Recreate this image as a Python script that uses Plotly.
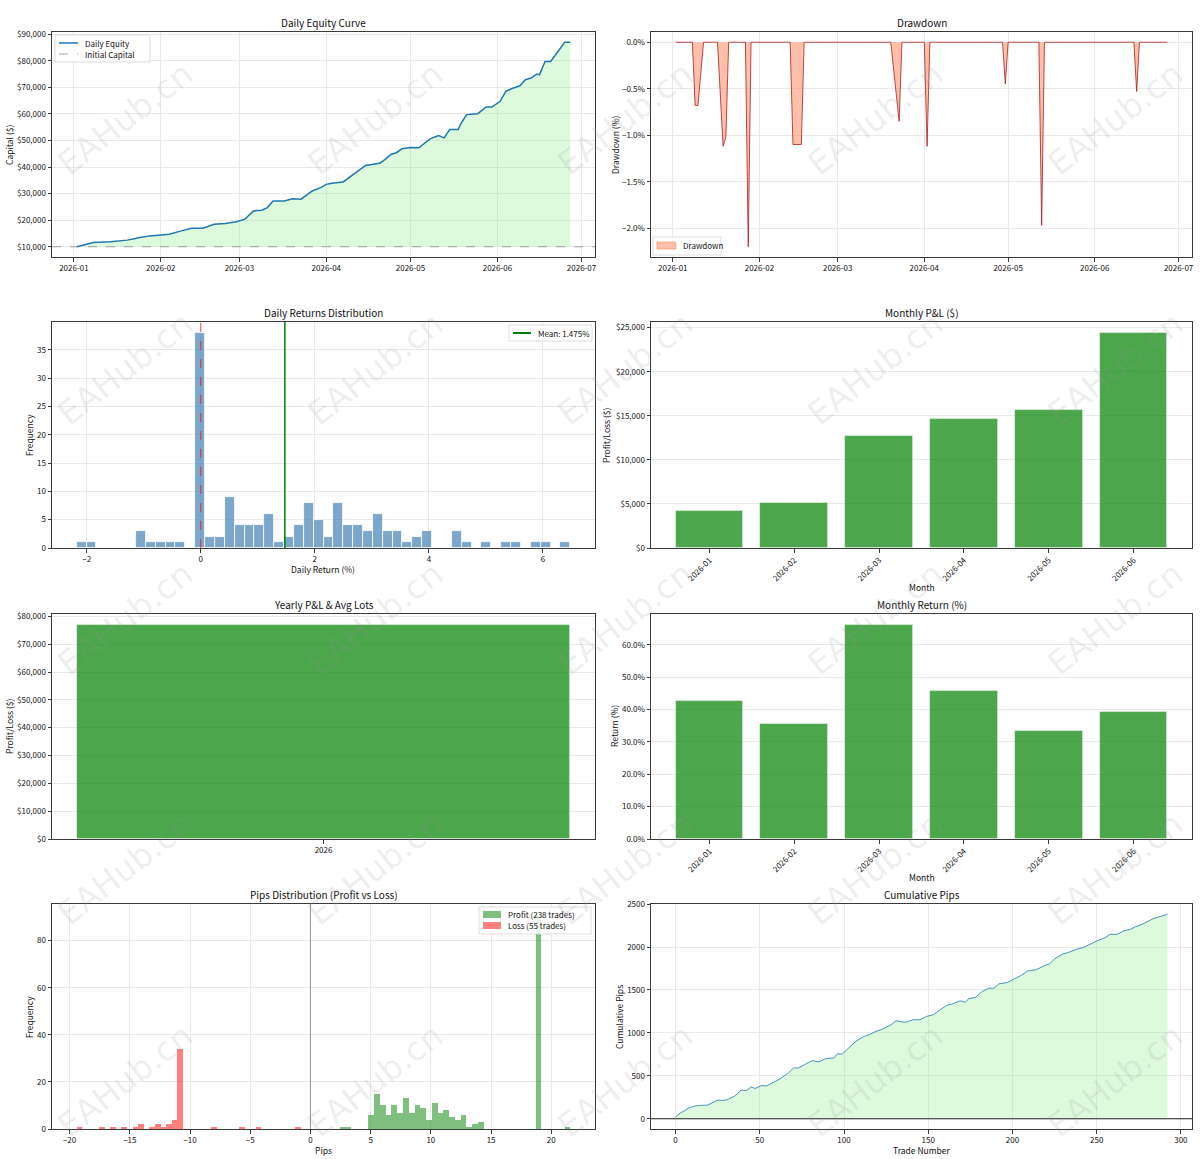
import numpy as np
import pandas as pd
import plotly.graph_objects as go

# ------------------------------------------------------------------ data
equity_dates = ["2026-01-02", "2026-01-06", "2026-01-08", "2026-01-14", "2026-01-20", "2026-01-23",
                "2026-01-24", "2026-01-28", "2026-02-01", "2026-02-04", "2026-02-08", "2026-02-12",
                "2026-02-16", "2026-02-20", "2026-02-24", "2026-02-28", "2026-03-03", "2026-03-06",
                "2026-03-09", "2026-03-11", "2026-03-13", "2026-03-17", "2026-03-20", "2026-03-23",
                "2026-03-27", "2026-03-30", "2026-04-01", "2026-04-03", "2026-04-07", "2026-04-10",
                "2026-04-13", "2026-04-15", "2026-04-20", "2026-04-22", "2026-04-24", "2026-04-26",
                "2026-04-28", "2026-05-01", "2026-05-04", "2026-05-06", "2026-05-08", "2026-05-11",
                "2026-05-13", "2026-05-15", "2026-05-18", "2026-05-19", "2026-05-21", "2026-05-25",
                "2026-05-28", "2026-05-30", "2026-06-02", "2026-06-04", "2026-06-06", "2026-06-09",
                "2026-06-11", "2026-06-13", "2026-06-15", "2026-06-16", "2026-06-18", "2026-06-20",
                "2026-06-23", "2026-06-25", "2026-06-27"]
equity_values = [10000, 11000, 11600, 11900, 12500, 13100, 13400, 14100, 14400, 14750, 15900, 17000,
                 17000, 18500, 18750, 19400, 20400, 23500, 23750, 24750, 27250, 27250, 28100, 27900,
                 31000, 32250, 33500, 33900, 34400, 36600, 39100, 40600, 41400, 42900, 44750, 45400,
                 46900, 47400, 47250, 49100, 50600, 51900, 51000, 54100, 54100, 56400, 59750, 60100,
                 62600, 62600, 64750, 68500, 69500, 70600, 72900, 73500, 75000, 74750, 79750, 79750,
                 84100, 86991, 86991]
initial_capital = 10000

dd_dates = ["2026-01-02", "2026-01-08", "2026-01-09", "2026-01-10", "2026-01-12", "2026-01-17",
            "2026-01-19", "2026-01-20", "2026-01-21", "2026-01-27", "2026-01-28", "2026-01-29",
            "2026-02-12", "2026-02-13", "2026-02-16", "2026-02-17", "2026-03-20", "2026-03-23",
            "2026-03-24", "2026-04-01", "2026-04-02", "2026-04-03", "2026-04-29", "2026-04-30",
            "2026-05-01", "2026-05-12", "2026-05-13", "2026-05-14", "2026-06-15", "2026-06-16",
            "2026-06-17", "2026-06-27"]
dd_values = [0, 0, -0.68, -0.68, 0, 0, -1.12, -1.02, 0, 0, -2.2, 0, 0, -1.10, -1.10, 0, 0, -0.85,
             0, 0, -1.12, 0, 0, -0.45, 0, 0, -1.97, 0, 0, -0.53, 0, 0]

ret_bin_start = -2.175
ret_bin_width = 0.1731
ret_counts = [1, 1, 0, 0, 0, 0, 3, 1, 1, 1,
              1, 0, 38, 2, 2, 9, 4, 4, 4, 6,
              1, 2, 4, 8, 5, 2, 8, 4, 4, 3,
              6, 3, 3, 1, 2, 3, 0, 0, 3, 1,
              0, 1, 0, 1, 1, 0, 1, 1, 0, 1]
ret_mean = 1.475

months = ["2026-01", "2026-02", "2026-03", "2026-04", "2026-05", "2026-06"]
monthly_pnl = [4180, 5050, 12720, 14620, 15690, 24420]
monthly_return = [42.7, 35.5, 66.2, 45.6, 33.4, 39.1]

years = ["2026"]
yearly_pnl = [76991]
yearly_avg_lots = [3.38]

profit_bin_start = 2.42
profit_bin_width = 0.479
profit_counts = [1, 1, 0, 0, 0, 6, 15, 10, 6, 10,
                 7, 13, 7, 10, 9, 4, 11, 7, 8, 5,
                 4, 6, 1, 2, 3, 0, 0, 0, 0, 0,
                 0, 0, 0, 0, 91, 0, 0, 0, 0, 1]
loss_bin_start = -19.41
loss_bin_width = 0.465
loss_counts = [1, 0, 0, 0, 1, 0, 1, 0, 1, 0,
               1, 2, 0, 1, 2, 1, 2, 4, 34, 0,
               0, 0, 0, 0, 1, 0, 0, 0, 0, 1,
               0, 0, 1, 0, 0, 0, 0, 0, 0, 1]
profit_trades = 238
loss_trades = 55

cum_trades = [0, 3, 5, 8, 11, 14, 19, 22, 25, 28, 31, 35, 39, 42, 45, 47, 51, 54, 57, 62,
              67, 70, 73, 77, 81, 85, 89, 94, 96, 99, 103, 107, 112, 115, 119, 123, 128, 131, 135, 137,
              141, 145, 149, 153, 157, 161, 164, 169, 172, 174, 178, 182, 186, 189, 192, 197, 200, 205, 209, 214,
              219, 222, 225, 230, 233, 238, 242, 246, 250, 255, 258, 262, 266, 270, 273, 276, 280, 284, 288, 292]
cum_pips = [23, 70, 89, 128, 147, 155, 159, 186, 217, 213, 224, 263, 333, 329, 372, 352, 387, 383, 410, 464,
            534, 592, 592, 631, 677, 662, 700, 708, 755, 755, 832, 902, 960, 979, 1018, 1045, 1095, 1142, 1126, 1126,
            1153, 1153, 1192, 1211, 1269, 1320, 1335, 1374, 1358, 1397, 1413, 1482, 1521, 1521, 1571, 1587, 1618, 1668, 1722, 1734,
            1784, 1803, 1861, 1920, 1935, 1974, 1993, 2032, 2070, 2109, 2148, 2148, 2187, 2206, 2237, 2256, 2295, 2334, 2356, 2382]

# ------------------------------------------------------------------ layout helpers
W, H = 1200, 1159
FONT = "Noto Sans CJK SC, DejaVu Sans, sans-serif"
cols = [(52, 595), (651, 1192)]
rows = [(32, 257), (322, 548), (614, 839), (904, 1129)]


def cell(k):
    r, c = (k - 1) // 2, (k - 1) % 2
    return rows[r], cols[c]


def pad(lo, hi, f=0.05):
    s = hi - lo
    return [lo - s * f, hi + s * f]


def axname(k):
    return "" if k == 1 else str(k)


def px(x):
    return x / W


def py(y):
    return 1 - y / H


axis_common = dict(showline=True, mirror=True, linecolor="#3a3a3a", linewidth=1,
                   ticks="outside", ticklen=3.5, tickwidth=0.8, tickcolor="#3a3a3a",
                   showgrid=True, gridcolor="#e9e9e9", gridwidth=0.8, zeroline=False,
                   automargin=False,
                   tickfont=dict(size=8, color="#111", family=FONT))

fig = go.Figure()

# ---- 1 Daily Equity Curve
eq_dates = pd.to_datetime(equity_dates)
fig.add_trace(go.Scatter(x=eq_dates, y=[initial_capital] * len(eq_dates), mode="lines",
                         line=dict(width=0), showlegend=False, hoverinfo="skip",
                         xaxis="x", yaxis="y"))
fig.add_trace(go.Scatter(x=eq_dates, y=equity_values, mode="lines", name="Daily Equity",
                         line=dict(color="#1f77b4", width=1.5), fill="tonexty", showlegend=False,
                         fillcolor="rgba(144,238,144,0.3)", xaxis="x", yaxis="y"))
fig.add_shape(type="line", xref="x domain", yref="y", x0=0, x1=1, y0=initial_capital, y1=initial_capital,
              line=dict(color="rgba(128,128,128,0.7)", width=1.2, dash="dash"))

# ---- 2 Drawdown
dd_d = pd.to_datetime(dd_dates)
fig.add_trace(go.Scatter(x=dd_d, y=dd_values, mode="lines", name="Drawdown", fill="tozeroy",
                         fillcolor="rgba(255,150,115,0.6)", line=dict(color="rgba(170,20,20,0.85)", width=0.9),
                         showlegend=False, xaxis="x2", yaxis="y2"))

# ---- 3 Daily returns distribution
ret_edges = ret_bin_start + ret_bin_width * np.arange(len(ret_counts) + 1)
ret_centers = (ret_edges[:-1] + ret_edges[1:]) / 2
fig.add_trace(go.Bar(x=ret_centers, y=ret_counts, width=ret_bin_width, showlegend=False,
                     marker=dict(color="rgba(70,130,180,0.7)", line=dict(color="white", width=0.8)),
                     xaxis="x3", yaxis="y3"))
fig.add_shape(type="line", xref="x3", yref="y3 domain", x0=0, x1=0, y0=0, y1=1,
              line=dict(color="rgba(255,0,0,0.6)", width=1.2, dash="dash"))
fig.add_shape(type="line", xref="x3", yref="y3 domain", x0=ret_mean, x1=ret_mean, y0=0, y1=1,
              line=dict(color="green", width=1.5))

# ---- 4 Monthly P&L
bar_green = "rgba(0,128,0,0.7)"
bar_edge = dict(color="rgba(255,255,255,0.6)", width=0.8)
fig.add_trace(go.Bar(x=months, y=monthly_pnl, width=0.8, showlegend=False,
                     marker=dict(color=bar_green, line=bar_edge), xaxis="x4", yaxis="y4"))

# ---- 5 Yearly P&L
fig.add_trace(go.Bar(x=years, y=yearly_pnl, width=0.8, showlegend=False,
                     marker=dict(color=bar_green, line=bar_edge), xaxis="x5", yaxis="y5"))

# ---- 6 Monthly return
fig.add_trace(go.Bar(x=months, y=monthly_return, width=0.8, showlegend=False,
                     marker=dict(color=bar_green, line=bar_edge), xaxis="x6", yaxis="y6"))

# ---- 7 Pips distribution
p_edges = profit_bin_start + profit_bin_width * np.arange(len(profit_counts) + 1)
l_edges = loss_bin_start + loss_bin_width * np.arange(len(loss_counts) + 1)
profit_color = "rgba(0,128,0,0.5)"
loss_color = "rgba(255,0,0,0.5)"
fig.add_trace(go.Bar(x=(p_edges[:-1] + p_edges[1:]) / 2, y=profit_counts, width=profit_bin_width,
                     name=f"Profit ({profit_trades} trades)", showlegend=False,
                     marker=dict(color=profit_color, line=dict(width=0)), xaxis="x7", yaxis="y7"))
fig.add_trace(go.Bar(x=(l_edges[:-1] + l_edges[1:]) / 2, y=loss_counts, width=loss_bin_width,
                     name=f"Loss ({loss_trades} trades)", showlegend=False,
                     marker=dict(color=loss_color, line=dict(width=0)), xaxis="x7", yaxis="y7"))
fig.add_shape(type="line", xref="x7", yref="y7 domain", x0=0, x1=0, y0=0, y1=1,
              line=dict(color="rgba(128,128,128,0.8)", width=1))

# ---- 8 Cumulative pips
fig.add_trace(go.Scatter(x=cum_trades, y=cum_pips, mode="lines", showlegend=False, fill="tozeroy",
                         fillcolor="rgba(144,238,144,0.3)", line=dict(color="rgba(31,119,180,0.8)", width=1),
                         xaxis="x8", yaxis="y8"))
fig.add_shape(type="line", xref="x8 domain", yref="y8", x0=0, x1=1, y0=0, y1=0,
              line=dict(color="#222", width=1))

# ------------------------------------------------------------------ axes
date_lo, date_hi = eq_dates.min(), eq_dates.max()
span = date_hi - date_lo
date_range = [date_lo - span * 0.05, date_hi + span * 0.05]

eq_all = equity_values + [initial_capital]
all_pips_lo = min(loss_bin_start, profit_bin_start)
all_pips_hi = max(l_edges[-1], p_edges[-1])

x_specs = {
    1: dict(type="date", range=date_range, tickformat="%Y-%m", dtick="M1", tick0="2026-01-01"),
    2: dict(type="date", range=date_range, tickformat="%Y-%m", dtick="M1", tick0="2026-01-01"),
    3: dict(range=pad(ret_edges[0], ret_edges[-1]), dtick=2),
    4: dict(type="category", range=[-0.69, len(months) - 1 + 0.69], tickangle=-45, showgrid=False),
    5: dict(type="category", range=[-0.44, 0.44], showgrid=False),
    6: dict(type="category", range=[-0.69, len(months) - 1 + 0.69], tickangle=-45, showgrid=False),
    7: dict(range=pad(all_pips_lo, all_pips_hi), dtick=5),
    8: dict(range=pad(min(cum_trades), max(cum_trades)), dtick=50),
}
y_specs = {
    1: dict(range=pad(min(eq_all), max(eq_all)), tickprefix="$", tickformat=",d", dtick=10000),
    2: dict(range=pad(min(dd_values), max(dd_values)), ticksuffix="%", tickformat=".1f", dtick=0.5),
    3: dict(range=[0, max(ret_counts) * 1.05], dtick=5),
    4: dict(range=[0, max(monthly_pnl) * 1.05], tickprefix="$", tickformat=",d", dtick=5000),
    5: dict(range=[0, max(yearly_pnl) * 1.05], tickprefix="$", tickformat=",d", dtick=10000),
    6: dict(range=[0, max(monthly_return) * 1.05], ticksuffix="%", tickformat=".1f", dtick=10),
    7: dict(range=[0, max(profit_counts + loss_counts) * 1.05], dtick=20),
    8: dict(range=pad(min(0, min(cum_pips)), max(cum_pips)), dtick=500),
}

layout = {}
for k in range(1, 9):
    (rt, rb), (cl, cr) = cell(k)
    xa = dict(axis_common)
    xa.update(domain=[cl / W, cr / W], anchor="y" + axname(k))
    xa.update(x_specs[k])
    ya = dict(axis_common)
    ya.update(domain=[1 - rb / H, 1 - rt / H], anchor="x" + axname(k))
    ya.update(y_specs[k])
    layout["xaxis" + axname(k)] = xa
    layout["yaxis" + axname(k)] = ya

# ------------------------------------------------------------------ annotations
ann = []
LFONT = dict(size=8, family=FONT, color="#111")
titles = {1: "Daily Equity Curve", 2: "Drawdown", 3: "Daily Returns Distribution", 4: "Monthly P&L ($)",
          5: "Yearly P&L & Avg Lots", 6: "Monthly Return (%)", 7: "Pips Distribution (Profit vs Loss)",
          8: "Cumulative Pips"}
for k, t in titles.items():
    (rt, rb), (cl, cr) = cell(k)
    ann.append(dict(text=t, x=px((cl + cr) / 2), y=py(rt - 10), xref="paper", yref="paper",
                    xanchor="center", yanchor="middle", showarrow=False,
                    font=dict(size=10, family=FONT, color="#111")))

ytitles = [("Capital ($)", 9, 145), ("Drawdown (%)", 615, 145), ("Frequency", 29, 435),
           ("Profit/Loss ($)", 606, 435), ("Profit/Loss ($)", 9, 726), ("Return (%)", 614, 726),
           ("Frequency", 29, 1017), ("Cumulative Pips", 619, 1017)]
for t, xx, yy in ytitles:
    ann.append(dict(text=t, x=px(xx), y=py(yy), xref="paper", yref="paper", textangle=-90,
                    xanchor="center", yanchor="middle", showarrow=False,
                    font=dict(size=8.5, family=FONT, color="#111")))
xtitles = [("Daily Return (%)", 323, 569), ("Month", 922, 587), ("Month", 922, 877),
           ("Pips", 323, 1150), ("Trade Number", 922, 1150)]
for t, xx, yy in xtitles:
    ann.append(dict(text=t, x=px(xx), y=py(yy), xref="paper", yref="paper",
                    xanchor="center", yanchor="middle", showarrow=False,
                    font=dict(size=8.5, family=FONT, color="#111")))

for yr, v, lots in zip(years, yearly_pnl, yearly_avg_lots):
    ann.append(dict(text=f"${v:,.0f} ({lots:.2f}手)", x=yr, y=v, xref="x5", yref="y5",
                    xanchor="center", yanchor="bottom", yshift=0, showarrow=False,
                    font=dict(size=7, family=FONT, color="#111")))

# ------------------------------------------------------------------ compact legends (matplotlib style)
shapes = []


def legend_box(x0, y0, x1, y1):
    shapes.append(dict(type="rect", xref="paper", yref="paper", x0=px(x0), x1=px(x1), y0=py(y0), y1=py(y1),
                       fillcolor="rgba(255,255,255,0.85)", line=dict(color="#d4d4d4", width=0.8), layer="above"))


def legend_line(x0, x1, y, color, width, dash="solid"):
    shapes.append(dict(type="line", xref="paper", yref="paper", x0=px(x0), x1=px(x1), y0=py(y), y1=py(y),
                       line=dict(color=color, width=width, dash=dash), layer="above"))


def legend_patch(x0, x1, y0, y1, color, edge=None):
    shapes.append(dict(type="rect", xref="paper", yref="paper", x0=px(x0), x1=px(x1), y0=py(y0), y1=py(y1),
                       fillcolor=color, line=dict(color=edge or color, width=0.8 if edge else 0), layer="above"))


def legend_text(x, y, t):
    ann.append(dict(text=t, x=px(x), y=py(y), xref="paper", yref="paper", xanchor="left", yanchor="middle",
                    showarrow=False, font=LFONT))


# panel 1
legend_box(55, 35, 150, 62)
legend_line(59, 78, 43, "#1f77b4", 1.5)
legend_text(83, 43, "Daily Equity")
legend_line(59, 78, 54, "rgba(128,128,128,0.7)", 1.2, "dash")
legend_text(83, 54, "Initial Capital")
# panel 2
legend_box(653, 237, 721, 255)
legend_patch(657, 676, 242, 249, "rgba(255,150,115,0.6)", "rgba(255,150,115,0.9)")
legend_text(681, 246, "Drawdown")
# panel 3
legend_box(509, 325, 592, 341)
legend_line(513, 531, 333, "green", 2)
legend_text(536, 333, f"Mean: {ret_mean:.3f}%")
# panel 7
legend_box(479, 907, 591, 934)
legend_patch(483, 501, 911, 918, profit_color)
legend_text(506, 914.5, f"Profit ({profit_trades} trades)")
legend_patch(483, 501, 922, 929, loss_color)
legend_text(506, 925.5, f"Loss ({loss_trades} trades)")

# watermark grid
wm_x = [125, 375, 625, 875, 1115]
wm_y = [118, 368, 618, 868, 1080]
for gx in wm_x:
    for gy in wm_y:
        ann.append(dict(text="EAHub.cn", x=px(gx), y=py(gy), xref="paper", yref="paper",
                        xanchor="center", yanchor="middle", textangle=-38, showarrow=False,
                        font=dict(size=33, family="DejaVu Sans, sans-serif", color="rgba(150,150,150,0.16)")))

layout["annotations"] = ann
layout["shapes"] = list(fig.layout.shapes) + shapes

fig.update_layout(**layout)
fig.update_layout(template="none", width=W, height=H, margin=dict(l=0, r=0, t=0, b=0, pad=0), autosize=False,
                  paper_bgcolor="white", plot_bgcolor="white", barmode="overlay", bargap=0, showlegend=False,
                  font=dict(family=FONT, size=9, color="#111"))

fig.write_html("out.html")
